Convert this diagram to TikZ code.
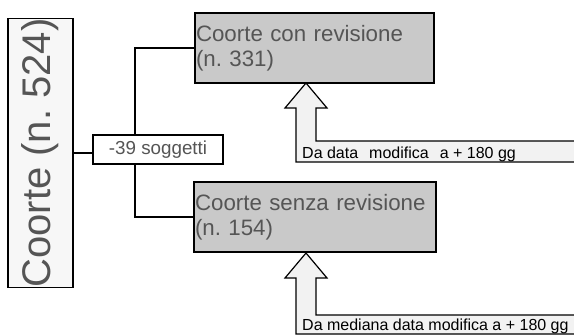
\documentclass[tikz,border=0pt]{standalone}
\usepackage{fontspec}
\setmainfont{Liberation Sans}
\usepackage{xcolor}
\usetikzlibrary{positioning}
\definecolor{boxText}{HTML}{555555}
\definecolor{boxGrey}{HTML}{C9C9C9}
\definecolor{boxLight}{HTML}{F7F7F7}
\definecolor{arrowFill}{HTML}{F2F2F2}
\frenchspacing

\begin{document}
\begin{tikzpicture}[x=1pt,y=-1pt,
    cohort/.style={draw=black,line width=1.5pt,inner sep=1pt,
          align=left,text=boxText,fill=boxGrey,
          font=\fontsize{22.3}{25}\selectfont},
    link/.style={draw=black,line width=1.4pt},
    bentarrow/.style={draw=black,line width=1.2pt,fill=arrowFill,line join=miter},
    arrowlabel/.style={anchor=base west,inner sep=0pt,
          font=\fontsize{16}{18}\selectfont}]
  \clip (0,0) rectangle (574,335);
  \fill[white] (0,0) rectangle (574,335);

  % main cohort
  \node[draw=black,line width=1.5pt,fill=boxLight,text=boxText,
        rotate=90,minimum width=264pt,minimum height=65pt,inner sep=0pt,
        font=\fontsize{40}{42}\selectfont] (coorte) at (40.5,153) {Coorte (n. 524)};
  \node[draw=black,line width=1.5pt,fill=white,text=boxText,
        minimum width=130pt,minimum height=29pt,inner sep=0pt,
        font=\fontsize{18.8}{20}\selectfont] (sogg) at (158,149.5) {-39 soggetti};

  % sub cohorts
  \node[cohort,text width=237pt,minimum height=70pt] (conrev) at (314.5,48)
    {Coorte con revisione\\(n. 331)};
  \node[cohort,text width=240pt,minimum height=70pt] (senzarev) at (315,217)
    {Coorte senza revisione\\(n. 154)};

  \draw[link] (coorte.south) -- (coorte.south -| sogg.west);
  \draw[link] ([xshift=-23pt]sogg.north) |- (conrev.west);
  \draw[link] ([xshift=-23pt]sogg.south) |- (senzarev.west);

  % time windows
  \draw[bentarrow] (306,83) -- (327,108) -- (316,108) -- (316,141) -- (580,141)
    -- (580,162) -- (296,162) -- (296,108) -- (285,108) -- cycle;
  \node[arrowlabel] (win1) at (302,158)
    {Da data\hspace{11pt}modifica\hspace{11pt}a + 180 gg};

  \draw[bentarrow] (306,253) -- (327,278) -- (316,278) -- (316,315) -- (580,315)
    -- (580,334) -- (296,334) -- (296,278) -- (285,278) -- cycle;
  \node[arrowlabel] (win2) at (302,330) {Da mediana data modifica a + 180 gg};
\end{tikzpicture}
\end{document}
